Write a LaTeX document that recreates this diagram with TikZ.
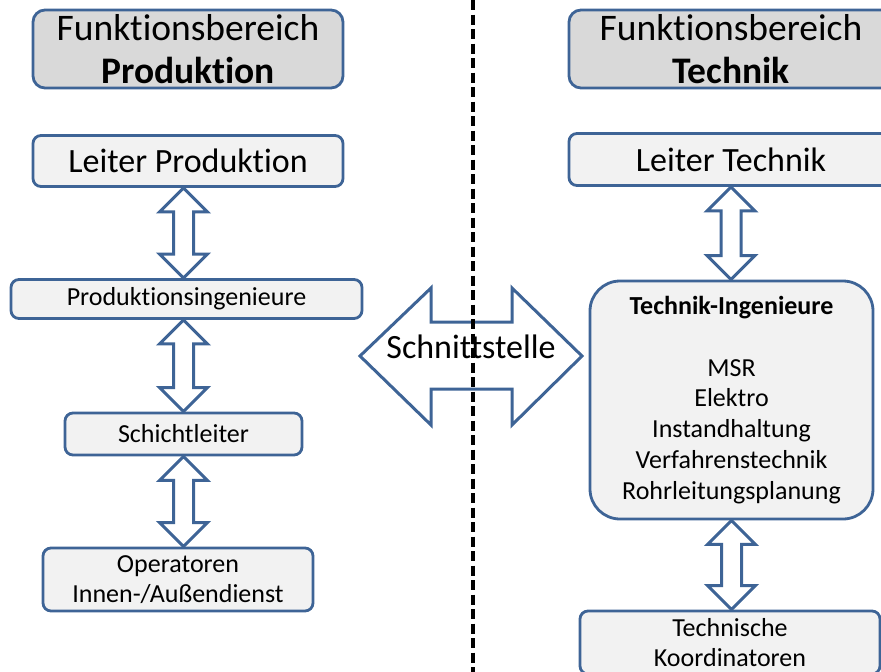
\documentclass[tikz,border=0pt]{standalone}
\usepackage{fontspec}
\setmainfont{Carlito}[Ligatures={NoCommon,NoDiscretionary,NoContextual}]
\usetikzlibrary{calc}
\definecolor{bord}{RGB}{62,100,150}
\definecolor{hdfill}{RGB}{217,217,217}
\definecolor{bxfill}{RGB}{242,242,242}
\begin{document}
\begin{tikzpicture}[x=1pt,y=-1pt,
 box/.style={draw=bord, line width=2.8pt, fill=bxfill, rounded corners=8pt, inner sep=0pt, align=center, text=black},
 headbox/.style={box, fill=hdfill, rounded corners=12pt, font=\fontsize{37.5}{43}\selectfont},
 bigtxt/.style={font=\fontsize{34}{40}\selectfont},
 smalltxt/.style={font=\fontsize{26}{30}\selectfont},
 hollow/.style={draw=bord, line width=3pt, fill=white, line join=miter},
 dblarrow/.style={hollow, to path={let \p1=(\tikztostart), \p2=(\tikztotarget) in
   (\x1,\y1) -- (\x1+24pt,\y1-24pt) -- (\x1+10pt,\y1-24pt) -- (\x1+10pt,\y2+24pt) -- (\x1+24pt,\y2+24pt)
   -- (\x1,\y2) -- (\x1-24pt,\y2+24pt) -- (\x1-10pt,\y2+24pt) -- (\x1-10pt,\y1-24pt) -- (\x1-24pt,\y1-24pt) -- cycle}},
 dashline/.style={line width=3.5pt, dash pattern=on 10pt off 4.5pt, black}
]
\useasboundingbox (0,0) rectangle (881,672);
\clip (0,0) rectangle (881,672);

% headers
\node[headbox, minimum width=310, minimum height=78] (fp) at (188,49) {Funktionsbereich\\\textbf{Produktion}};
\node[headbox, minimum width=324, minimum height=78] (ft) at (731,49) {Funktionsbereich\\\textbf{Technik}};

% left column
\node[box, bigtxt, minimum width=310, minimum height=51] (lp) at (188,161) {Leiter Produktion};
\node[box, smalltxt, minimum width=351, minimum height=39] (pi) at (186.5,299) {Produktionsingenieure};
\node[box, smalltxt, minimum width=237, minimum height=42] (sl) at (183.5,434) {Schichtleiter};
\node[box, smalltxt, minimum width=270, minimum height=63] (op) at (178,579.5) {Operatoren\\Innen-/Außendienst};

% right column
\node[box, bigtxt, minimum width=324, minimum height=52] (lt) at (731,159.5) {Leiter Technik};
\node[box, font=\fontsize{26}{30.8}\selectfont, rounded corners=30pt, minimum width=283, minimum height=238] (ti) at (731.5,400)
  {\textbf{Technik-Ingenieure}\\[30.8pt]MSR\\Elektro\\Instandhaltung\\Verfahrenstechnik\\Rohrleitungsplanung};
\node[box, smalltxt, minimum width=300, minimum height=63] (tk) at (730,642.5) {Technische\\Koordinatoren};

% vertical double arrows
\draw[dblarrow] (lp.south -| sl.north) to (pi.north -| sl.north);
\draw[dblarrow] (pi.south -| sl.north) to (sl.north);
\draw[dblarrow] (sl.south) to (op.north -| sl.south);
\draw[dblarrow] (lt.south) to (ti.north -| lt.south);
\draw[dblarrow] (ti.south) to (tk.north -| ti.south);

% Schnittstelle arrow
\draw[hollow] (360,356) -- (431,288) -- (431,322) -- (512,322) -- (512,288) -- (582,356)
  -- (512,425) -- (512,389) -- (431,389) -- (431,425) -- cycle;
\node[bigtxt, anchor=base, inner sep=0pt] (sn) at (471,358) {Schnittstelle};

% dashed separator
\coordinate (dtop) at (473,0);
\coordinate (dbot) at (473,672);
\draw[dashline] (dtop) -- (dbot);
\end{tikzpicture}
\end{document}
